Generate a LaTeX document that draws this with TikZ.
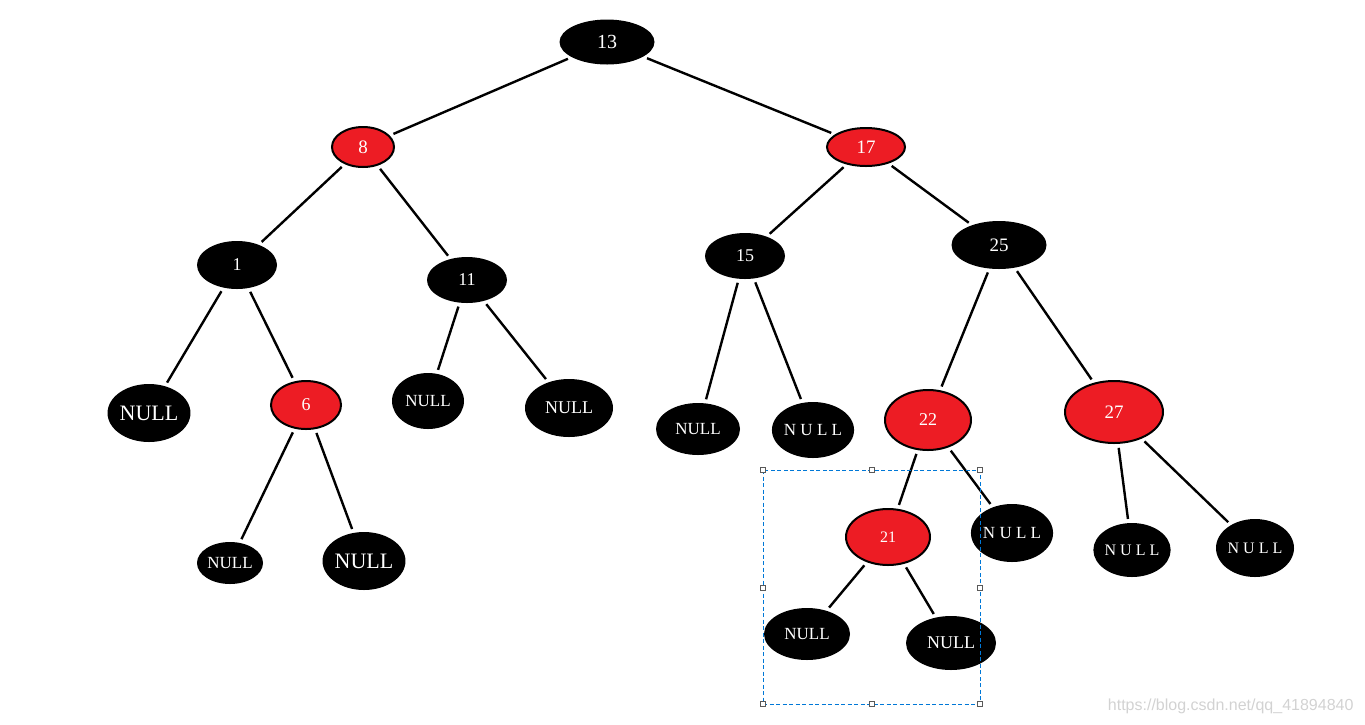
\documentclass[tikz,border=0pt]{standalone}
\usepackage{fontspec}
\setmainfont{Liberation Serif}
\newfontfamily\wmfont{Liberation Sans}
\usetikzlibrary{shapes.geometric}
\definecolor{rbred}{RGB}{237,28,36}
\definecolor{selblue}{RGB}{0,120,215}
\newcommand{\fsz}[1]{\fontsize{#1}{#1}\selectfont}
\tikzset{
  blk/.style={ellipse,fill=black,text=white,inner sep=0pt},
  rd/.style={ellipse,fill=rbred,draw=black,line width=2pt,text=white,inner sep=0pt},
  edge/.style={line width=2.4pt,shorten >=4pt,shorten <=4pt},
  handle/.style={rectangle,draw=gray!70!black,fill=white,line width=0.6pt,minimum size=5pt,inner sep=0pt}
}

\begin{document}
\begin{tikzpicture}[x=1pt,y=-1pt]
  \useasboundingbox (0,0) rectangle (1365,724);
  % inner nodes
  \node[blk,minimum width=95,minimum height=45,font=\fsz{20}] (n13) at (607,42) {13};
  \node[rd,minimum width=62,minimum height=40,font=\fsz{19}] (n8) at (363,147) {8};
  \node[rd,minimum width=78,minimum height=38,font=\fsz{19}] (n17) at (866,147) {17};
  \node[blk,minimum width=80,minimum height=48,font=\fsz{18}] (n1) at (237,265) {1};
  \node[blk,minimum width=80,minimum height=46,font=\fsz{18}] (n11) at (467,280) {11};
  \node[blk,minimum width=80,minimum height=46,font=\fsz{18}] (n15) at (745,256) {15};
  \node[blk,minimum width=95,minimum height=48,font=\fsz{19}] (n25) at (999,245) {25};
  \node[rd,minimum width=70,minimum height=48,font=\fsz{18}] (n6) at (306,405) {6};
  \node[rd,minimum width=86,minimum height=60,font=\fsz{18}] (n22) at (928,420) {22};
  \node[rd,minimum width=98,minimum height=62,font=\fsz{19}] (n27) at (1114,412) {27};
  \node[rd,minimum width=84,minimum height=56,font=\fsz{16}] (n21) at (888,537) {21};
  % leaves
  \node[blk,minimum width=82,minimum height=58,font=\fsz{22}] (n1L) at (149,413) {NULL};
  \node[blk,minimum width=72,minimum height=56,font=\fsz{17}] (n11L) at (428,401) {NULL};
  \node[blk,minimum width=88,minimum height=58,font=\fsz{18}] (n11R) at (569,408) {NULL};
  \node[blk,minimum width=84,minimum height=52,font=\fsz{17}] (n15L) at (698,429) {NULL};
  \node[blk,minimum width=82,minimum height=56,font=\fsz{17}] (n15R) at (813,430) {N U L L};
  \node[blk,minimum width=66,minimum height=42,font=\fsz{17}] (n6L) at (230,563) {NULL};
  \node[blk,minimum width=66,minimum height=58,font=\fsz{22}] (n6R) at (364,561) {NULL};
  \node[blk,minimum width=76,minimum height=58,font=\fsz{17}] (n22R) at (1012,533) {N U L L};
  \node[blk,minimum width=68,minimum height=54,font=\fsz{16}] (n27L) at (1132,550) {N U L L};
  \node[blk,minimum width=78,minimum height=58,font=\fsz{16}] (n27R) at (1255,548) {N U L L};
  \node[blk,minimum width=86,minimum height=52,font=\fsz{17}] (n21L) at (807,634) {NULL};
  \node[blk,minimum width=90,minimum height=54,font=\fsz{18}] (n21R) at (951,643) {NULL};
  % edges
  \foreach \a/\b in {n13/n8,n13/n17,n8/n1,n8/n11,n17/n15,n17/n25,n1/n1L,n1/n6,
      n11/n11L,n11/n11R,n15/n15L,n15/n15R,n25/n22,n25/n27,n6/n6L,n6/n6R,
      n22/n21,n22/n22R,n27/n27L,n27/n27R,n21/n21L,n21/n21R}{
    \draw[edge] (\a) -- (\b);
  }
  % selection box
  \coordinate (selA) at (763,470);
  \coordinate (selB) at (980,704);
  \draw[selblue,line width=0.9pt,dash pattern=on 4pt off 2.5pt] (selA) rectangle (selB);
  \foreach \hx/\hy in {763/470,872/470,980/470,763/588,980/588,763/704,872/704,980/704}{
    \node[handle] at (\hx,\hy) {};
  }
  % watermark
  \node[anchor=east,text=gray!35,font=\wmfont\fsz{16}] (wm) at (1357,706) {https://blog.csdn.net/qq\_41894840};
\end{tikzpicture}
\end{document}
